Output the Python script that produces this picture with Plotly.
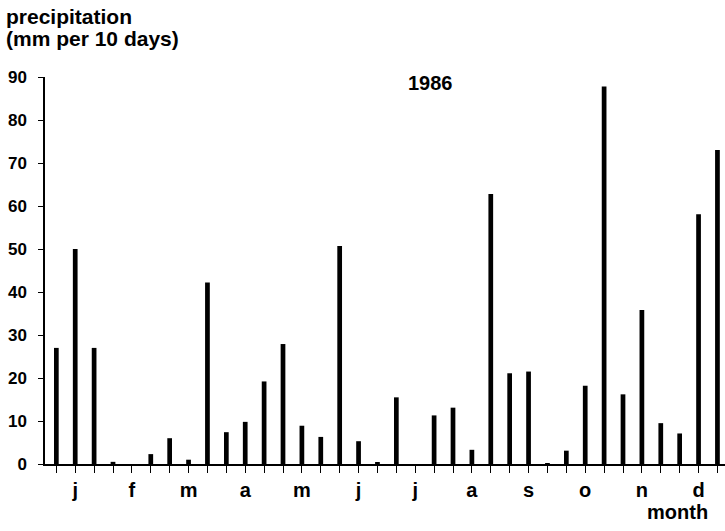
import plotly.graph_objects as go

# 10-day periods (3 per month), 1986
periods = list(range(36))
precip = [27, 50, 27, 0.5, 0, 2.3, 6, 1, 42.2, 7.4, 9.8, 19.2,
          27.9, 8.9, 6.3, 50.7, 5.3, 0.3, 15.5, 0, 11.3, 13.1, 3.3, 62.8,
          21.1, 21.5, 0.2, 3.1, 18.2, 87.8, 16.2, 35.8, 9.5, 7.1, 58.1, 73]
months = ["j", "f", "m", "a", "m", "j", "j", "a", "s", "o", "n", "d"]
yticks = [0, 10, 20, 30, 40, 50, 60, 70, 80, 90]

ticktext = []
for i in periods:
    ticktext.append(months[i // 3] if i % 3 == 1 else "")

W, H = 725, 531
L, R, T, B = 45, 0, 77, 67
pw, ph = W - L - R, H - T - B

def px(x):
    return (x - L) / pw

def py(y):
    return (H - B - y) / ph

FONT = "Liberation Sans"
fig = go.Figure()
fig.add_trace(go.Bar(x=periods, y=precip, width=0.25,
                     marker=dict(color="#000000", line=dict(width=0))))

fig.update_layout(
    width=W, height=H,
    margin=dict(l=L, r=R, t=T, b=B, autoexpand=False),
    paper_bgcolor="white", plot_bgcolor="white",
    showlegend=False,
    font=dict(family=FONT, color="#000000"),
    xaxis=dict(range=[-0.6, 35.4], tickmode="array", tickvals=periods,
               ticktext=ticktext, ticks="outside", ticklen=7, tickwidth=1.2,
               tickcolor="#000", showline=True, linecolor="#000", linewidth=1.5,
               showgrid=False, zeroline=False, automargin=False,
               tickfont=dict(family=FONT, size=20, weight="bold", color="#000")),
    yaxis=dict(range=[0, 90], tickmode="array", tickvals=yticks,
               ticks="outside", ticklen=5, tickwidth=1.2, tickcolor="#000",
               showline=True, linecolor="#000", linewidth=1.5,
               showgrid=False, zeroline=False, automargin=False,
               ticklabelstandoff=8,
               tickfont=dict(family=FONT, size=17, weight="bold", color="#000")),
    annotations=[
        dict(text="precipitation", xref="paper", yref="paper",
             x=px(4), y=py(17), xanchor="left", yanchor="middle", showarrow=False,
             font=dict(family=FONT, size=21, weight="bold", color="#000")),
        dict(text="(mm per 10 days)", xref="paper", yref="paper",
             x=px(4), y=py(39), xanchor="left", yanchor="middle", showarrow=False,
             font=dict(family=FONT, size=21, weight="bold", color="#000")),
        dict(text="1986", xref="paper", yref="paper",
             x=px(430), y=py(83), xanchor="center", yanchor="middle", showarrow=False,
             font=dict(family=FONT, size=20, weight="bold", color="#000")),
        dict(text="month", xref="paper", yref="paper",
             x=px(710), y=py(512), xanchor="right", yanchor="middle", showarrow=False,
             font=dict(family=FONT, size=20, weight="bold", color="#000")),
    ],
)

fig.write_html("out.html", config={"displayModeBar": False},
               post_script="document.body.style.margin='0px';")
